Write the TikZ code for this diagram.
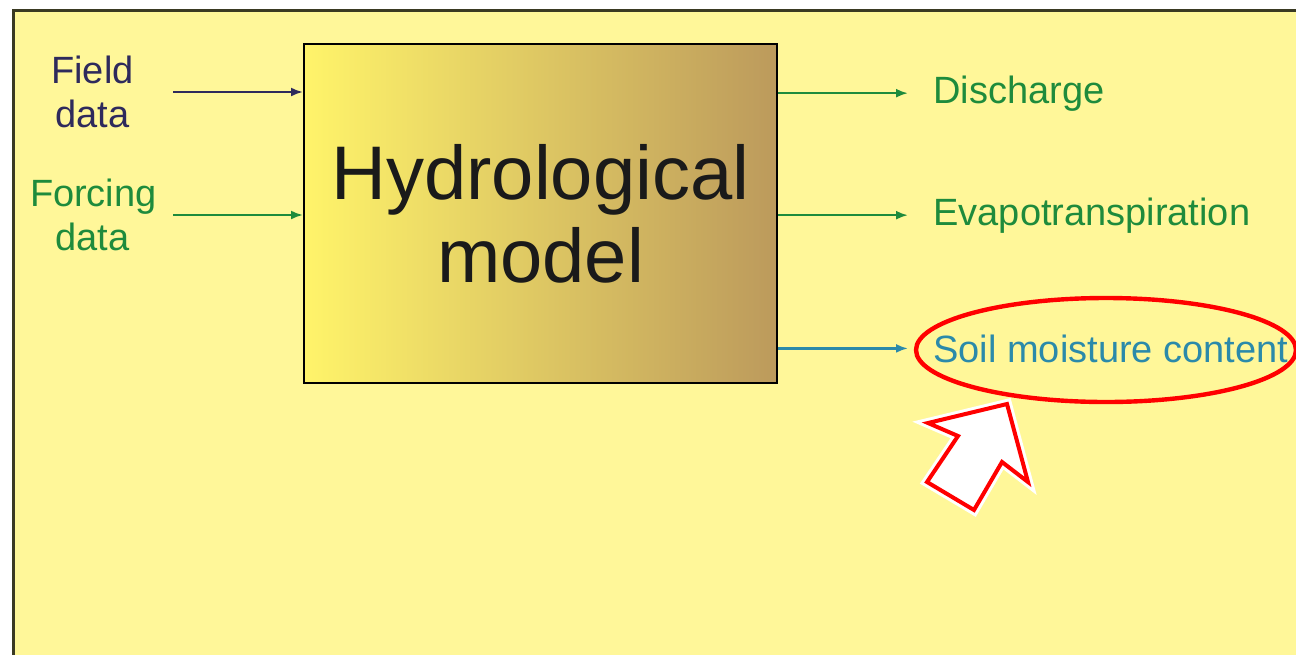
\documentclass[tikz,border=0pt]{standalone}
\usepackage{fontspec}
\setmainfont{Liberation Sans}
\usetikzlibrary{arrows.meta}
\definecolor{pad}{HTML}{FFF799}
\definecolor{rim}{HTML}{3A3A22}
\definecolor{boxl}{HTML}{FFF46A}
\definecolor{boxr}{HTML}{BC9A5C}
\definecolor{ink}{HTML}{1A1A1A}
\definecolor{navy}{HTML}{2E2A5C}
\definecolor{leaf}{HTML}{1E8B3C}
\definecolor{teal}{HTML}{2B8AAA}
\definecolor{alarm}{HTML}{FF0000}

\begin{document}
\begin{tikzpicture}[x=0.5pt,y=-0.5pt,>={Latex[length=6pt,width=4.5pt]},
  lbl/.style={font=\fontsize{19}{22}\selectfont,align=center,text width=62.5pt,inner sep=0pt},
  yield/.style={font=\fontsize{19}{22}\selectfont,inner sep=0pt,anchor=base west},
  feed/.style={->,line width=1.1pt,shorten <=9pt},
  flow/.style={->,line width=1.1pt,shorten >=12.5pt}]
  \useasboundingbox (0,0) rectangle (1296,654);
  \clip (0,0) rectangle (1296,654);
  \draw[line width=1.5pt,draw=rim,fill=pad] (13,10) rectangle (1320,680);
  \node[draw=black,line width=1pt,left color=boxl,right color=boxr,minimum width=236.5pt,minimum height=169.5pt,
    align=center,font=\fontsize{38}{43}\selectfont,text=ink] (model) at (540.5,213.5) {\raisebox{-1.5pt}{Hydrological}\\model};
  \node[lbl,text=navy] (field) at (92.5,92) {Field\\data};
  \node[lbl,text=leaf] (forcing) at (92.5,215) {Forcing\\data};
  \node[yield,text=leaf] (q) at (933,103) {Discharge};
  \node[yield,text=leaf] (et) at (933,225) {Evapotranspiration};
  \node[yield,text=teal] (sm) at (933,362) {Soil moisture content};
  \draw[feed,navy] (field.east) -- (field.east -| model.west);
  \draw[feed,leaf] (forcing.east) -- (forcing.east -| model.west);
  \draw[flow,leaf] (model.east |- q.west) -- (q.west);
  \draw[flow,leaf] (model.east |- et.west) -- (et.west);
  \draw[flow,teal] (model.east |- sm.west) -- (sm.west);
  \draw[alarm,line width=2.2pt] (1106,350) ellipse [x radius=95pt,y radius=26pt];
  \draw[alarm,line width=2pt,fill=white,line join=miter,preaction={draw=white,line width=5pt}]
    (1007,404) -- (1028,482) -- (1002,462) -- (974,510) -- (927,482) -- (958,436) -- (928,423) -- cycle;
\end{tikzpicture}
\end{document}
